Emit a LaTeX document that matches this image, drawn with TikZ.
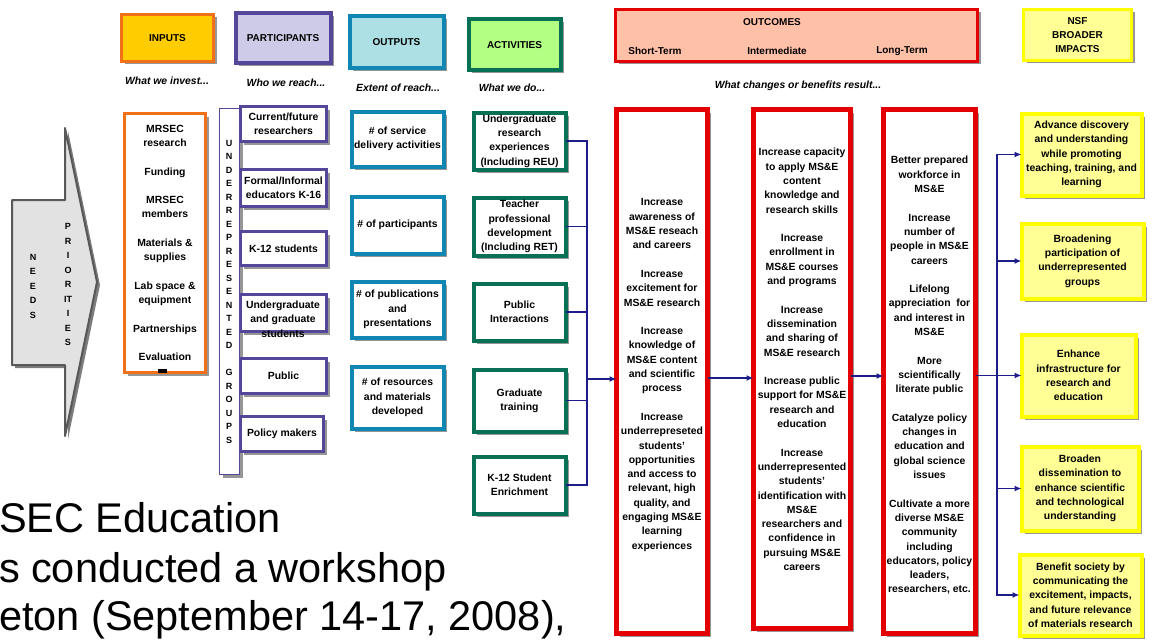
\documentclass[tikz,border=0pt]{standalone}
\usepackage{fontspec}
\setmainfont{Liberation Sans}
\usetikzlibrary{shadows,arrows.meta}
\definecolor{inorange}{RGB}{242,112,24}
\definecolor{infill}{RGB}{255,204,0}
\definecolor{purp}{RGB}{84,70,152}
\definecolor{purpfill}{RGB}{205,203,232}
\definecolor{outblue}{RGB}{16,134,178}
\definecolor{outfill}{RGB}{172,224,228}
\definecolor{actgreen}{RGB}{8,112,84}
\definecolor{actfill}{RGB}{178,255,132}
\definecolor{ocred}{RGB}{228,0,0}
\definecolor{ocfill}{RGB}{255,192,168}
\definecolor{nsfyel}{RGB}{255,255,0}
\definecolor{yelfill}{RGB}{255,255,150}
\definecolor{navy}{RGB}{28,28,138}
\definecolor{shadowgray}{RGB}{150,150,150}
\definecolor{needfill}{RGB}{226,226,226}
\definecolor{needline}{RGB}{88,88,88}
\definecolor{needshadow}{RGB}{125,125,125}
\newcommand{\mybox}[7]{\node[#2, minimum width={(#5)-(#3)-3}, minimum height={(#6)-(#4)-3}] (#1) at ({((#3)+(#5))/2},{((#4)+(#6))/2}) {#7};}
\begin{document}
\begin{tikzpicture}[x=1pt,y=-1pt,
  every node/.style={inner sep=0pt,outer sep=0pt},
  shad/.style={drop shadow={shadow xshift=3pt,shadow yshift=-3pt,fill=shadowgray,opacity=1}},
  txt/.style={align=center,font=\bfseries\fontsize{10.4}{14.3}\selectfont},
  hdrtxt/.style={align=center,font=\bfseries\fontsize{10}{14}\selectfont},
  hdr/.style={hdrtxt,draw,shad},
  sub/.style={font=\bfseries\itshape\fontsize{10.4}{12}\selectfont},
  vlet/.style={align=center,font=\bfseries\fontsize{9}{14.5}\selectfont},
  vletb/.style={align=center,font=\bfseries\fontsize{9}{13.5}\selectfont},
  big/.style={font=\fontsize{41.5}{49}\selectfont},
  pbox/.style={txt,draw=purp,line width=3.5pt,fill=white,shad},
  obox/.style={txt,draw=outblue,line width=4pt,fill=white,shad},
  abox/.style={txt,draw=actgreen,line width=4pt,fill=white,shad},
  cbox/.style={draw=ocred,line width=4.5pt,fill=white,shad},
  ybox/.style={txt,draw=nsfyel,line width=4pt,fill=yelfill,shad},
  conn/.style={draw=navy,line width=1.6pt},
  arr/.style={conn,-{Latex[length=7pt,width=6pt]}}]

\useasboundingbox (0,0) rectangle (1154,642);
\fill[white] (0,0) rectangle (1154,642);

% background slide text
\node[big,anchor=base west] (bt1) at (-1,532) {SEC Education};
\node[big,anchor=base west] (bt2) at (-1,582) {s conducted a workshop};
\node[big,anchor=base west] (bt3) at (-1,630) {eton (September 14-17, 2008),};

% headers
\mybox{hin}{hdr,draw=inorange,fill=infill,line width=3pt}{120}{13}{215}{63}{INPUTS}
\mybox{hpart}{hdr,draw=purp,fill=purpfill,line width=4pt}{234}{12}{332}{65}{PARTICIPANTS}
\mybox{hout}{hdr,draw=outblue,fill=outfill,line width=4pt}{348}{15}{445}{70}{OUTPUTS}
\mybox{hact}{hdr,draw=actgreen,fill=actfill,line width=4pt}{467}{18}{562}{72}{ACTIVITIES}
\mybox{hoc}{hdr,draw=ocred,fill=ocfill,line width=3.5pt}{614}{8}{979}{63}{}
\node[hdrtxt] (toc) at (772,22) {OUTCOMES};
\node[hdrtxt] (tst) at (655,51) {Short-Term};
\node[hdrtxt] (tint) at (777,51) {Intermediate};
\node[hdrtxt] (tlt) at (902,51) {Long-Term};
\mybox{hnsf}{hdr,draw=nsfyel,fill=yelfill,line width=3.5pt}{1022}{8}{1133}{62}{NSF\\BROADER\\IMPACTS}

% subtitles
\node[sub] (s1) at (167,81) {What we invest...};
\node[sub] (s2) at (286,83) {Who we reach...};
\node[sub] (s3) at (398,88) {Extent of reach...};
\node[sub] (s4) at (512,88) {What we do...};
\node[sub] (s5) at (798,86) {What changes or benefits result...};

% needs / priorities arrow
\fill[needshadow] (15,203) -- (68,203) -- (68,131) -- (100,285) -- (68,439) -- (68,368) -- (15,368) -- cycle;
\draw[draw=needline,fill=needfill,line width=2pt,line join=round] (12,200) -- (65,200) -- (65,128) -- (97,282) -- (65,436) -- (65,365) -- (12,365) -- cycle;
\node[vlet] (needs) at (33,286) {N\\E\\E\\D\\S};
\node[vlet] (prio) at (68,284.5) {P\\R\\I\\O\\R\\IT\\I\\E\\S};

% inputs
\mybox{inp}{txt,draw=inorange,line width=3pt,fill=white,shad}{123}{112}{207}{374}{MRSEC\\research\\\mbox{}\\Funding\\\mbox{}\\MRSEC\\members\\\mbox{}\\Materials \&\\supplies\\\mbox{}\\Lab space \&\\equipment\\\mbox{}\\Partnerships\\\mbox{}\\Evaluation}
\fill (158,369) rectangle (167,373);

% underrepresented groups bar
\mybox{ug}{draw=purp,line width=1.5pt,fill=white,shad}{218}{107}{241}{476}{}
\node[vletb] (ugt) at (229,291.5) {U\\N\\D\\E\\R\\R\\E\\P\\R\\E\\S\\E\\N\\T\\E\\D\\\mbox{}\\G\\R\\O\\U\\P\\S};

% participants
\mybox{p1}{pbox}{239}{105}{328}{143}{Current/future\\researchers}
\mybox{p2}{pbox}{239}{168}{328}{208}{Formal/Informal\\educators K-16}
\mybox{p3}{pbox}{239}{230}{328}{267}{K-12 students}
\mybox{p4}{pbox}{239}{293}{328}{333}{}
\node[txt] (p4t) at (283,319) {Undergraduate\\and graduate\\students};
\mybox{p5}{pbox}{239}{357}{328}{395}{Public}
\mybox{p6}{pbox}{239}{415}{325}{453}{Policy makers}

% outputs
\mybox{o1}{obox}{350}{110}{445}{168}{\# of service\\delivery activities}
\mybox{o2}{obox}{350}{195}{445}{255}{\# of participants}
\mybox{o3}{obox}{350}{280}{445}{339}{\# of publications\\and\\presentations}
\mybox{o4}{obox}{350}{365}{445}{430}{\# of resources\\and materials\\developed}

% activities
\mybox{a1}{abox}{472}{111}{567}{171}{Undergraduate\\research\\experiences\\(Including REU)}
\mybox{a2}{abox}{472}{196}{567}{257}{Teacher\\professional\\development\\(Including RET)}
\mybox{a3}{abox}{472}{282}{567}{342}{Public\\Interactions}
\mybox{a4}{abox}{472}{368}{567}{433}{Graduate\\training}
\mybox{a5}{abox}{472}{455}{567}{515}{K-12 Student\\Enrichment}

% outcomes
\mybox{oc1}{cbox}{615}{108}{709}{635}{}
\mybox{oc2}{cbox}{752}{108}{852}{630}{}
\mybox{oc3}{cbox}{882}{108}{977}{635}{}
\node[txt] (oc1t) at (662,375) {Increase\\awareness of\\MS\&E reseach\\and careers\\\mbox{}\\Increase\\excitement for\\MS\&E research\\\mbox{}\\Increase\\knowledge of\\MS\&E content\\and scientific\\process\\\mbox{}\\Increase\\underrepreseted\\students'\\opportunities\\and access to\\relevant, high\\quality, and\\engaging MS\&E\\learning\\experiences};
\node[txt] (oc2t) at (802,359.5) {Increase capacity\\to apply MS\&E\\content\\knowledge and\\research skills\\\mbox{}\\Increase\\enrollment in\\MS\&E courses\\and programs\\\mbox{}\\Increase\\dissemination\\and sharing of\\MS\&E research\\\mbox{}\\Increase public\\support for MS\&E\\research and\\education\\\mbox{}\\Increase\\underrepresented\\students'\\identification with\\MS\&E\\researchers and\\confidence in\\pursuing MS\&E\\careers};
\node[txt] (oc3t) at (929.5,375.5) {Better prepared\\workforce in\\MS\&E\\\mbox{}\\Increase\\number of\\people in MS\&E\\careers\\\mbox{}\\Lifelong\\appreciation~ for\\and interest in\\MS\&E\\\mbox{}\\More\\scientifically\\literate public\\\mbox{}\\Catalyze policy\\changes in\\education and\\global science\\issues\\\mbox{}\\Cultivate a more\\diverse MS\&E\\community\\including\\educators, policy\\leaders,\\researchers, etc.};

% NSF broader impacts
\mybox{y1}{ybox}{1020}{112}{1143}{197}{Advance discovery\\and understanding\\while promoting\\teaching, training, and\\learning}
\mybox{y2}{ybox}{1020}{222}{1145}{300}{Broadening\\participation of\\underrepresented\\groups}
\mybox{y3}{ybox}{1020}{333}{1137}{418}{Enhance\\infrastructure for\\research and\\education}
\mybox{y4}{ybox}{1020}{445}{1140}{532}{Broaden\\dissemination to\\enhance scientific\\and technological\\understanding}
\mybox{y5}{ybox}{1018}{553}{1143}{637}{Benefit society by\\communicating the\\excitement, impacts,\\and future relevance\\of materials research}

% connectors
\coordinate (ab) at (587,379);
\foreach \n in {a1,a2,a3,a4,a5} \draw[conn] (\n.east) -| (ab);
\draw[arr] (ab) -- (ab -| oc1.west);
\coordinate (r1) at (0,378);
\draw[arr] (oc1.east |- r1) -- (oc2.west |- r1);
\coordinate (r2) at (0,376);
\draw[arr] (oc2.east |- r2) -- (oc3.west |- r2);
\draw[arr] (oc3.east |- y3.west) -- (y3.west);
\coordinate (nb) at (997,378);
\foreach \n in {y1,y2,y4,y5} \draw[arr] (nb) |- (\n.west);
\end{tikzpicture}
\end{document}
